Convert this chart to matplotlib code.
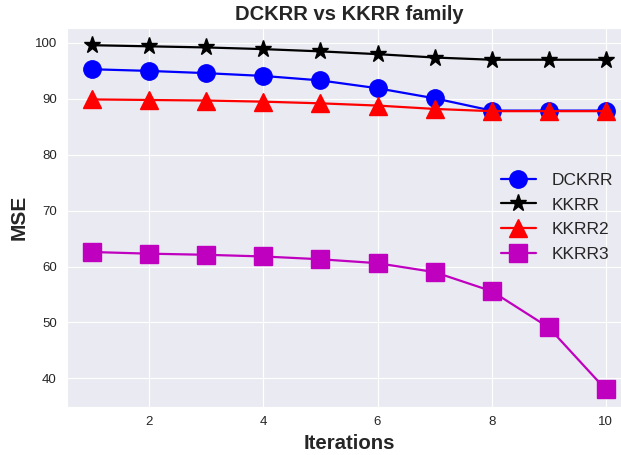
import matplotlib
matplotlib.use("Agg")
import matplotlib.pyplot as plt
import seaborn as sns

sns.set_style("darkgrid")
plt.rcParams['font.family'] = ['Liberation Sans', 'DejaVu Sans']

iterations = [1, 2, 3, 4, 5, 6, 7, 8, 9, 10]
dckrr = [95.3, 95.0, 94.6, 94.1, 93.3, 91.9, 90.1, 87.9, 87.9, 87.9]
kkrr = [99.6, 99.4, 99.2, 98.9, 98.5, 98.0, 97.4, 97.0, 97.0, 97.0]
kkrr2 = [89.9, 89.8, 89.7, 89.5, 89.2, 88.8, 88.2, 87.8, 87.8, 87.8]
kkrr3 = [62.6, 62.3, 62.1, 61.8, 61.3, 60.6, 59.0, 55.6, 49.1, 38.0]

W, H = 621, 455
fig = plt.figure(figsize=(W / 100, H / 100), dpi=100)
ax = fig.add_axes([66.6 / W, (H - 406.7) / H, (631.4 - 66.6) / W, (406.7 - 28) / H])

ms = 12.5
ax.plot(iterations, dckrr, color='b', marker='o', markersize=ms, linewidth=1.6, label='DCKRR')
ax.plot(iterations, kkrr, color='k', marker='*', markersize=ms, linewidth=1.6, label='KKRR')
ax.plot(iterations, kkrr2, color='r', marker='^', markersize=ms, linewidth=1.6, label='KKRR2')
ax.plot(iterations, kkrr3, color='m', marker='s', markersize=ms, linewidth=1.6, label='KKRR3')

ax.set_title('DCKRR vs KKRR family', fontsize=14.5, fontweight='bold', color='#262626')
ax.set_xlabel('Iterations', fontsize=14.7, fontweight='bold')
ax.set_ylabel('MSE', fontsize=15, fontweight='bold')
ax.tick_params(labelsize=9.5)
ax.legend(loc='center right', fontsize=12.5, frameon=False, labelspacing=0.55,
          handletextpad=0.9, bbox_to_anchor=(0.995, 0.5))

fig.savefig('out.png', dpi=100)
